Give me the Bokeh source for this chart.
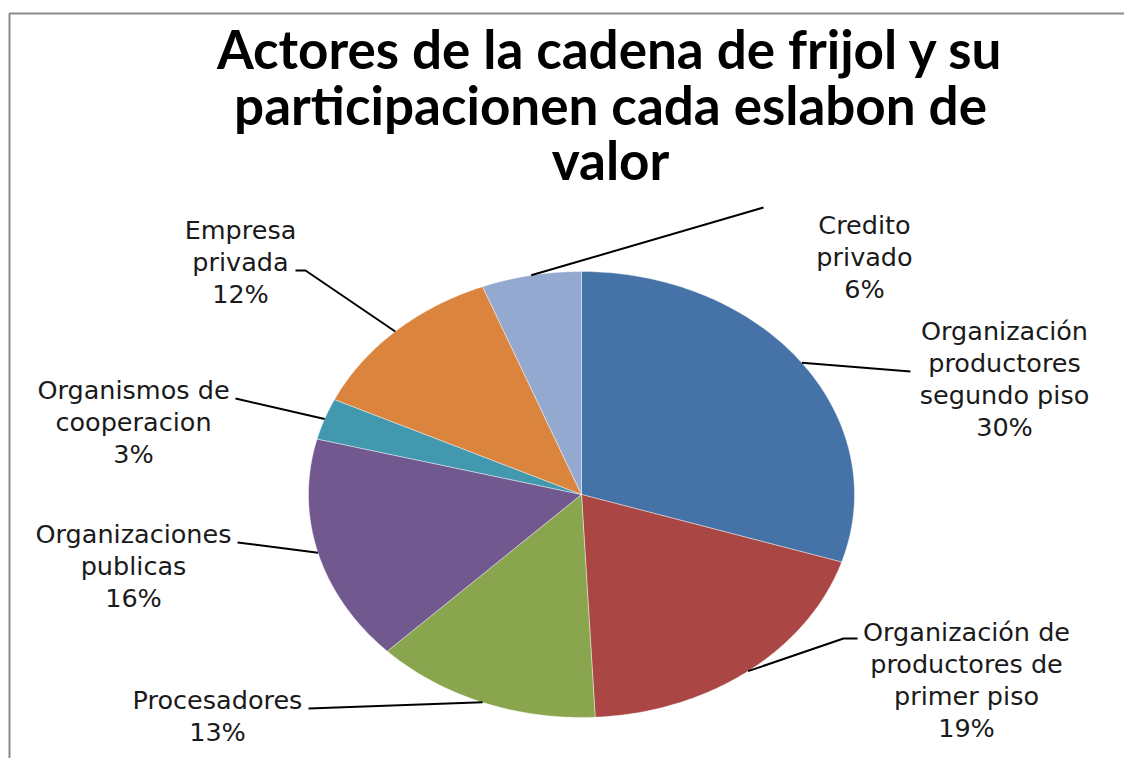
import numpy as np
from bokeh.plotting import figure
from bokeh.models import Range1d
from bokeh.core.properties import value
from bokeh.embed import file_html
from bokeh.resources import INLINE

# ---------------- data ----------------
categories = [
    "Organización\nproductores\nsegundo piso",
    "Organización de\nproductores de\nprimer piso",
    "Procesadores",
    "Organizaciones\npublicas",
    "Organismos de\ncooperacion",
    "Empresa\nprivada",
    "Credito\nprivado",
]
shares = [29.9, 19.3, 13.4, 16.4, 3.0, 12.1, 5.9]
colors = ["#4572A7", "#AA4643", "#89A54E", "#71588F", "#4198AF", "#DB843D", "#93A9CF"]
title_lines = ["Actores de la cadena de frijol y su",
               "participacionen cada eslabon de",
               "valor"]

# ---------------- layout (screen-like coordinates) ----------------
CX, CY, RX, RY = 581, 494, 273, 223
label_x = [1004, 966, 217, 133, 133, 240, 864]
label_y0 = [330, 631, 699, 533, 389, 229, 224]
LINE_STEP = 32
leader_tail = [
    [(910, 371)],
    [(843, 638), (857, 638)],
    [(308, 708)],
    [(237, 542)],
    [(235, 398)],
    [(305, 270), (295, 270)],
    [(763, 207)],
]

W, H = 1124, 758
p = figure(width=W, height=H, output_backend="svg", toolbar_location=None,
           x_range=Range1d(0, W), y_range=Range1d(H, 0),
           min_border=0)
p.axis.visible = False
p.grid.visible = False
p.outline_line_color = None
p.background_fill_color = "white"
p.border_fill_color = "white"

# chart area border (left and top edges visible)
p.line(x=[9, 9, W + 10], y=[H + 10, 13, 13], line_color="#8a8a8a", line_width=2)

# pie slices (clockwise from 12 o'clock)
total = float(sum(shares))
fr = np.array(shares) / total
ends = 90 - 360 * np.cumsum(fr)
starts = np.concatenate([[90], ends[:-1]])
xs, ys, lx, ly = [], [], [], []
for s, e in zip(starts, ends):
    t = np.radians(np.linspace(s, e, 120))
    xs.append([CX] + list(CX + RX * np.cos(t)))
    ys.append([CY] + list(CY - RY * np.sin(t)))
p.patches(xs=xs, ys=ys, fill_color=colors, line_color="white", line_width=0.6, line_alpha=0.7)

# leader lines
mid = np.radians((starts + ends) / 2)
for i, m in enumerate(mid):
    px = [CX + RX * np.cos(m)] + [pt[0] for pt in leader_tail[i]]
    py = [CY - RY * np.sin(m)] + [pt[1] for pt in leader_tail[i]]
    lx.append(px)
    ly.append(py)
p.multi_line(xs=lx, ys=ly, line_color="black", line_width=2)

# labels
tx, ty, tt = [], [], []
for i, cat in enumerate(categories):
    lines = cat.split("\n") + [f"{round(shares[i] / total * 100):.0f}%"]
    for j, ln in enumerate(lines):
        tx.append(label_x[i])
        ty.append(label_y0[i] + j * LINE_STEP)
        tt.append(ln)
p.text(x=tx, y=ty, text=tt, text_align="center", text_baseline="alphabetic",
       text_font=value("DejaVu Sans"), text_font_size="25.5px", text_color="#1a1a1a")

# title
p.text(x=[610, 610, 610], y=[48, 104, 159], text=title_lines, text_align="center",
       text_baseline="alphabetic", text_font=value("Lato"), text_font_style="bold",
       text_font_size="53px", text_color="black")

open("out.html", "w").write(file_html(p, INLINE))
